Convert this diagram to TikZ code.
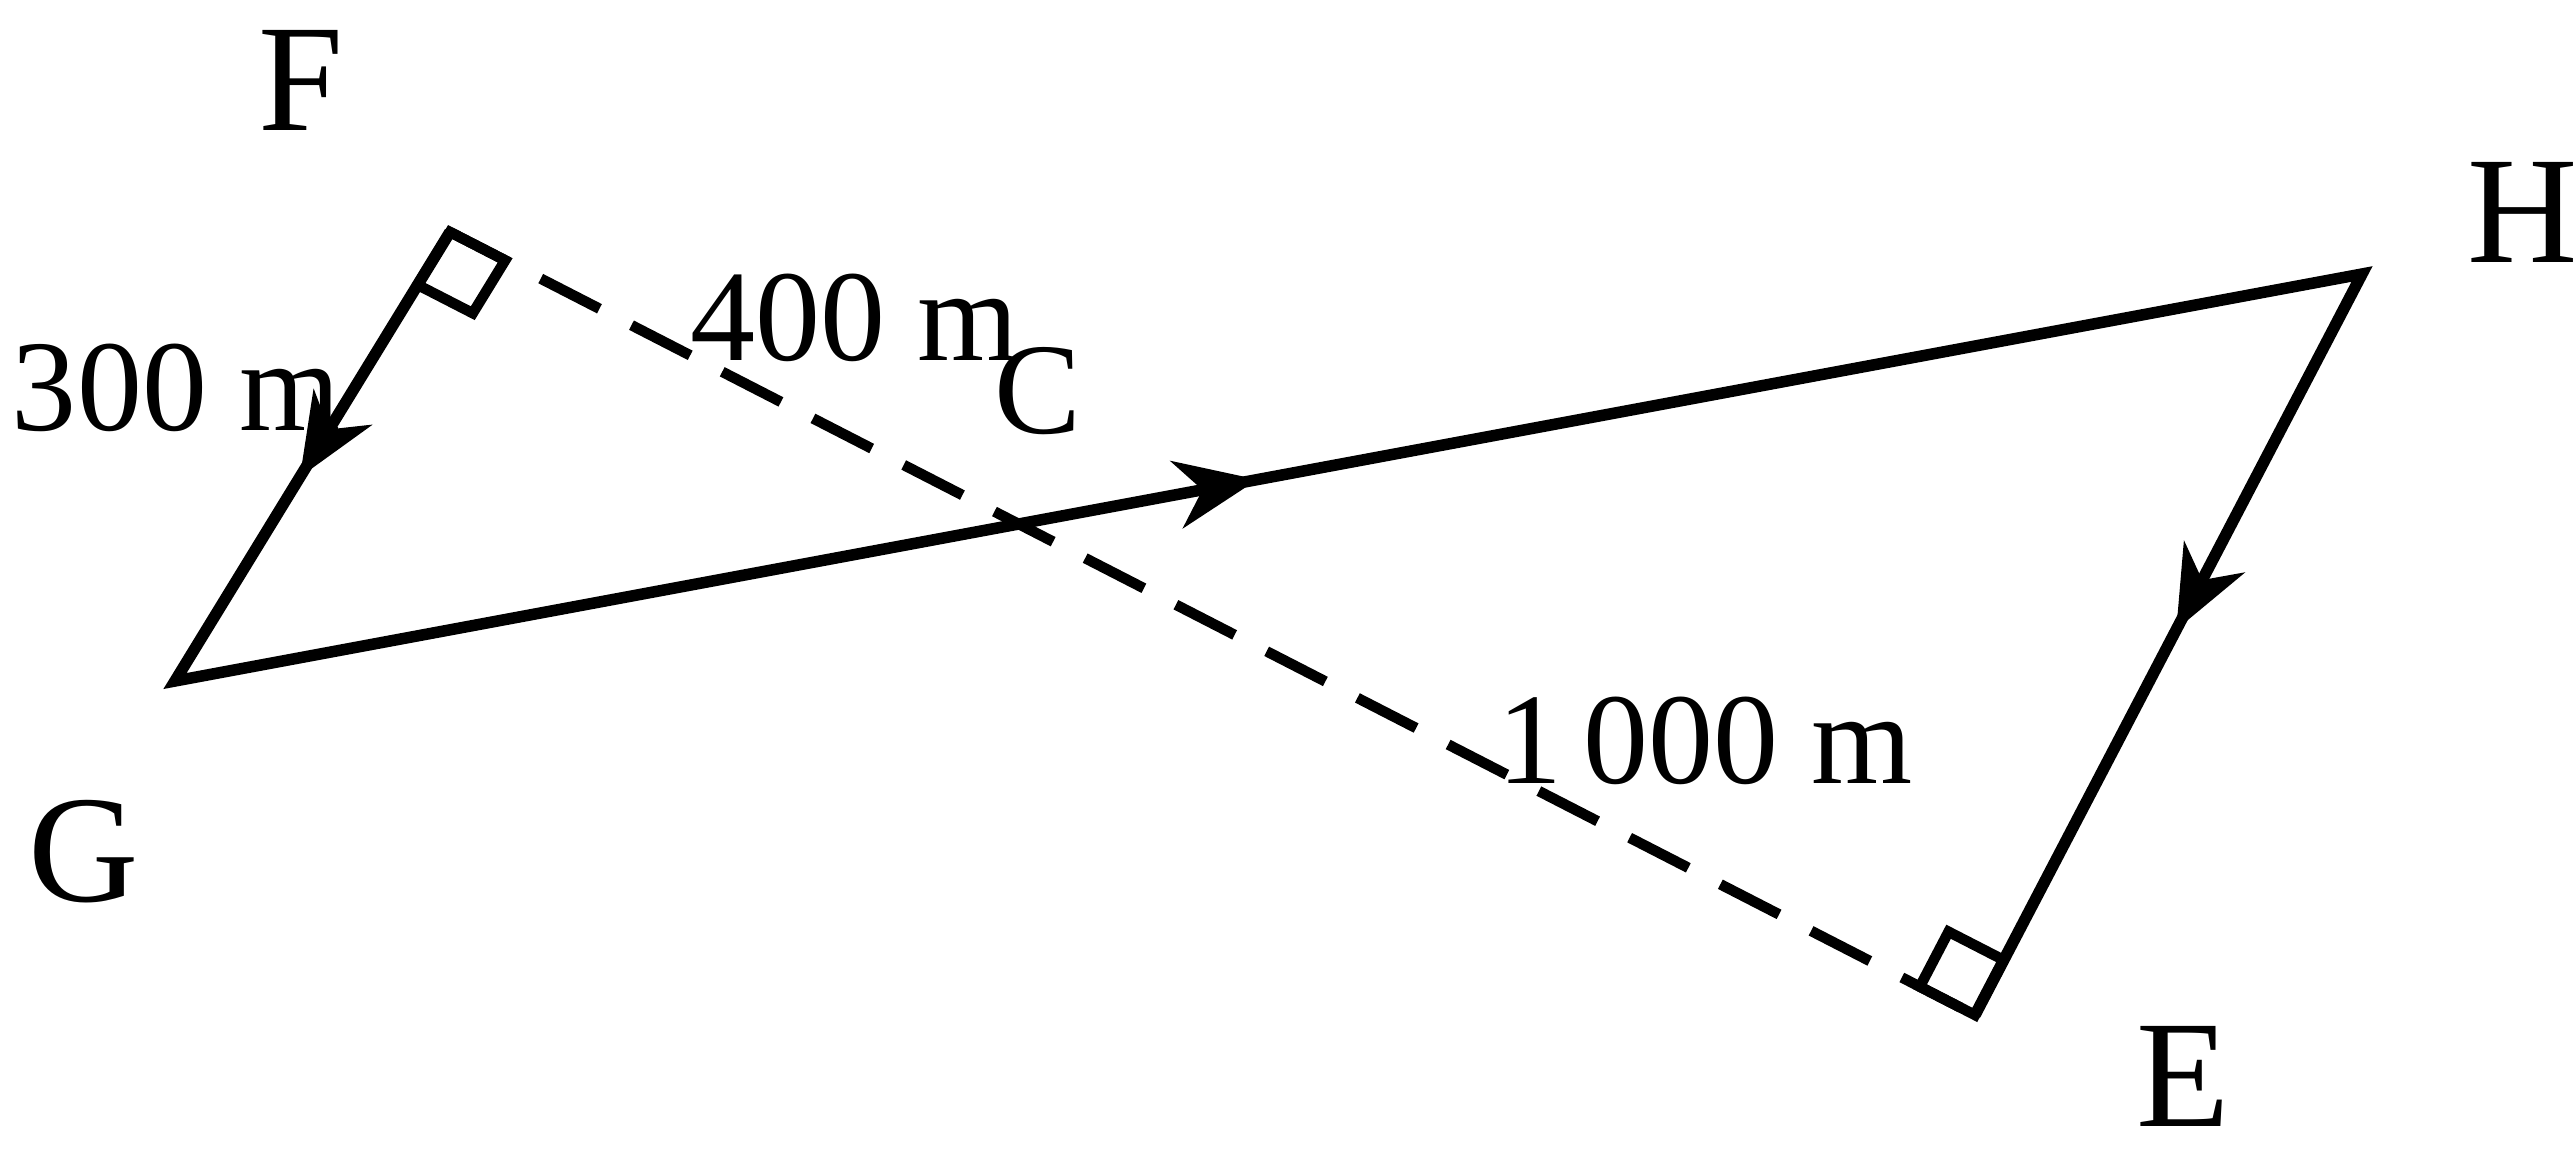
\documentclass[tikz,border=0pt]{standalone}
\usepackage{fontspec}
\setmainfont{Liberation Serif}
\usetikzlibrary{arrows.meta,calc}
\begin{document}
\begin{tikzpicture}[x=1cm,y=-1cm,
  seg/.style={line width=0.115cm, line join=miter},
  sq/.style={line width=0.105cm, line join=miter},
  dsh/.style={line width=0.105cm, dash pattern=on 0.66cm off 0.36cm},
  tip/.style={-{Stealth[length=0.82cm,width=0.68cm,inset=0.26cm]}, line width=0.11cm},
  big/.style={anchor=base west, inner sep=0pt, outer sep=0pt, font=\fontsize{43.5}{50}\selectfont},
  small/.style={anchor=base west, inner sep=0pt, outer sep=0pt, font=\fontsize{37}{42}\selectfont}]
\fill[white] (0,0) rectangle (25.75,11.54);
\useasboundingbox (0,0) rectangle (25.75,11.54);

\coordinate (F) at (4.50,2.32);
\coordinate (G) at (1.75,6.81);
\coordinate (H) at (23.62,2.74);
\coordinate (E) at (19.75,10.15);

% dashed line F--E
\draw[dsh] (F) -- (E);

% path F -> G -> H -> E
\draw[seg] (F) -- (G) -- (H) -- (E);

% right-angle squares
\coordinate (Fg) at ($(F)!0.62cm!(G)$);
\coordinate (Fe) at ($(F)!0.62cm!(E)$);
\coordinate (Fc) at ($(Fg)+(Fe)-(F)$);
\draw[sq] (F) -- (Fg) -- (Fc) -- (Fe) -- cycle;
\coordinate (Eh) at ($(E)!0.62cm!(H)$);
\coordinate (Ef) at ($(E)!0.62cm!(F)$);
\coordinate (Ec) at ($(Eh)+(Ef)-(E)$);
\draw[sq] (E) -- (Eh) -- (Ec) -- (Ef) -- cycle;

% mid-segment arrowheads
\coordinate (a1) at ($(F)!0.50!(G)$);
\coordinate (a1t) at ($(F)!0.546!(G)$);
\draw[tip] (a1) -- (a1t);
\coordinate (a2) at ($(G)!0.47!(H)$);
\coordinate (a2t) at ($(G)!0.495!(H)$);
\draw[tip] (a2) -- (a2t);
\coordinate (a3) at ($(H)!0.44!(E)$);
\coordinate (a3t) at ($(H)!0.48!(E)$);
\draw[tip] (a3) -- (a3t);

% labels
\node[big] (lF) at (2.58,1.30) {F};
\node[big] (lE) at (21.36,11.26) {E};
\node[big] (lH) at (24.67,2.62) {H};
\node[big] (lG) at (0.28,9.01) {G};
\node[small] (lC) at (9.94,4.33) {C};
\node[small] (l400) at (6.90,3.60) {400 m};
\node[small] (l1000) at (14.97,7.83) {1\,000 m};
\node[small] (l300) at (0.12,4.30) {300 m};
\end{tikzpicture}
\end{document}
